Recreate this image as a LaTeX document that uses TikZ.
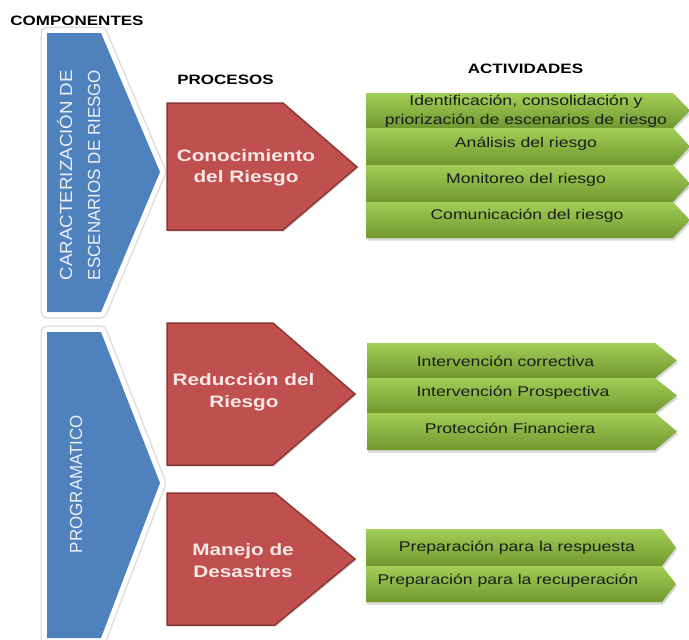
\documentclass[tikz,border=0pt]{standalone}
\usepackage{fontspec}
\setmainfont{Liberation Sans}[FakeStretch=1.25]
\newfontfamily\vfont{Liberation Sans}
\usetikzlibrary{shadows}
\definecolor{cblue}{RGB}{79,129,189}
\definecolor{cred}{RGB}{192,80,77}
\definecolor{credline}{RGB}{140,56,54}
\definecolor{cgreentop}{RGB}{162,206,86}
\definecolor{cgreenbot}{RGB}{112,152,48}
\definecolor{ctextred}{RGB}{246,232,230}
\definecolor{ctextblue}{RGB}{236,241,248}
\definecolor{ctextgreen}{RGB}{28,28,28}
\tikzset{
  hdr/.style={font=\bfseries\fontsize{13.6}{16}\selectfont, anchor=base, inner sep=0pt},
  redtxt/.style={font=\bfseries\fontsize{16.6}{20}\selectfont, text=ctextred, anchor=base, inner sep=0pt},
  grtxt/.style={font=\fontsize{14.1}{17}\selectfont, text=ctextgreen, anchor=base, inner sep=0pt},
  bluetxt/.style={font=\vfont\fontsize{17.5}{20}\selectfont, text=ctextblue, rotate=90, anchor=base, inner sep=0pt},
  redshape/.style={fill=cred, draw=credline, line width=1.5pt, line join=miter,
    drop shadow={opacity=0.3, shadow xshift=1pt, shadow yshift=-1.5pt}},
  greenrow/.style={top color=cgreentop, bottom color=cgreenbot,
    drop shadow={opacity=0.3, shadow xshift=1pt, shadow yshift=-2.5pt}},
  blueshadow/.style={draw=black!13, line width=13pt, line join=round},
  blueborder/.style={draw=white, line width=10pt, line join=round},
  bluefill/.style={fill=cblue},
}
\begin{document}
\begin{tikzpicture}[x=1pt,y=-1pt]
\useasboundingbox (0,0) rectangle (689,640);
\clip (0,0) rectangle (689,640);
\fill[white] (0,0) rectangle (689,640);

% headers
\node[hdr] (comp) at (77,25) {COMPONENTES};
\node[hdr] (proc) at (225.5,84) {PROCESOS};
\node[hdr] (act) at (525.5,73) {ACTIVIDADES};

% blue chevrons
\foreach \s in {blueshadow,blueborder,bluefill}{
  \path[\s] (47,33) -- (101,33) -- (160,172) -- (101,312) -- (47,312) -- cycle;
  \path[\s] (47,332) -- (101,332) -- (160,483) -- (101,638) -- (47,638) -- cycle;
}
\node[bluetxt] (car1) at (72,175) {\resizebox{210pt}{\height}{CARACTERIZACIÓN DE}};
\node[bluetxt] (car2) at (100,175) {\resizebox{210pt}{\height}{ESCENARIOS DE RIESGO}};
\node[bluetxt] (prog) at (82,484) {\resizebox{138pt}{\height}{PROGRAMATICO}};

% red pentagons
\path[redshape] (167,103) -- (283,103) -- (357,167) -- (283,230) -- (167,230) -- cycle;
\path[redshape] (167,323) -- (273,323) -- (355,394) -- (273,465) -- (167,465) -- cycle;
\path[redshape] (167,493) -- (275,493) -- (355,559) -- (275,625) -- (167,625) -- cycle;
\node[redtxt] (r1a) at (246,161) {Conocimiento};
\node[redtxt] (r1b) at (246,182) {del Riesgo};
\node[redtxt] (r2a) at (243.5,385) {Reducción del};
\node[redtxt] (r2b) at (244,407) {Riesgo};
\node[redtxt] (r3a) at (243,555) {Manejo de};
\node[redtxt] (r3b) at (243,577) {Desastres};

% green group 1
\path[greenrow] (366,93) -- (673,93) -- (690,110.5) -- (673,128) -- (366,128) -- cycle;
\node[grtxt] (g1a) at (526,105) {Identificación, consolidación y};
\node[grtxt] (g1b) at (526,124) {priorización de escenarios de riesgo};
\path[greenrow] (366,128) -- (673,128) -- (690,146.5) -- (673,165) -- (366,165) -- cycle;
\node[grtxt] (g2) at (526,147) {Análisis del riesgo};
\path[greenrow] (366,165) -- (673,165) -- (690,183.5) -- (673,202) -- (366,202) -- cycle;
\node[grtxt] (g3) at (526,183) {Monitoreo del riesgo};
\path[greenrow] (366,202) -- (673,202) -- (690,220) -- (673,238) -- (366,238) -- cycle;
\node[grtxt] (g4) at (527,219) {Comunicación del riesgo};

% green group 2
\path[greenrow] (367,343) -- (655,343) -- (677,360.5) -- (655,378) -- (367,378) -- cycle;
\node[grtxt] (h1) at (505.5,366) {Intervención correctiva};
\path[greenrow] (367,378) -- (655,378) -- (677,395.5) -- (655,413) -- (367,413) -- cycle;
\node[grtxt] (h2) at (513,396) {Intervención Prospectiva};
\path[greenrow] (367,413) -- (655,413) -- (677,431.5) -- (655,450) -- (367,450) -- cycle;
\node[grtxt] (h3) at (510,433) {Protección Financiera};

% green group 3
\path[greenrow] (366,529) -- (662,529) -- (676,547.5) -- (662,566) -- (366,566) -- cycle;
\node[grtxt] (k1) at (517,551) {Preparación para la respuesta};
\path[greenrow] (366,566) -- (662,566) -- (676,584) -- (662,602) -- (366,602) -- cycle;
\node[grtxt] (k2) at (508,584) {Preparación para la recuperación};
\end{tikzpicture}
\end{document}
